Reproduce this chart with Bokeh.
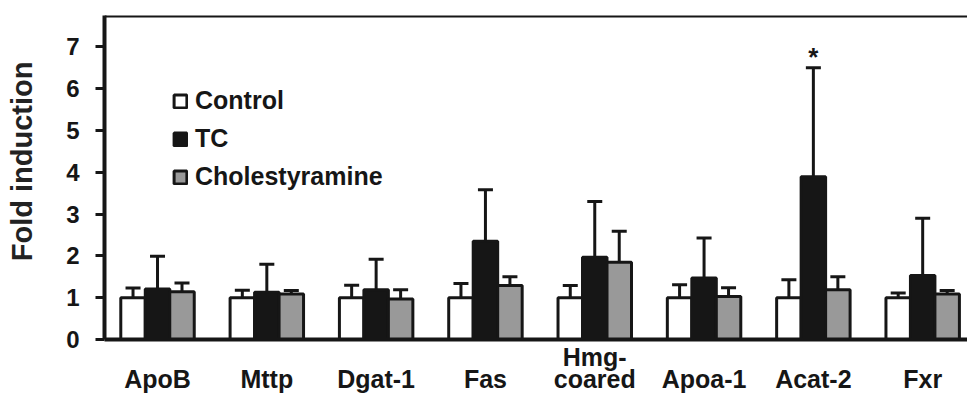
from bokeh.plotting import figure
from bokeh.models import (ColumnDataSource, Range1d, FixedTicker, Whisker, TeeHead,
                          Span, Legend, LegendItem)
from bokeh.core.properties import value
from bokeh.embed import file_html
from bokeh.resources import INLINE

# ---- data ----
categories = ["ApoB", "Mttp", "Dgat-1", "Fas", "Hmg-coared", "Apoa-1", "Acat-2", "Fxr"]
tick_labels = ["\nApoB", "\nMttp", "\nDgat-1", "\nFas", "Hmg-\ncoared", "\nApoa-1", "\nAcat-2", "\nFxr"]
series = ["Control", "TC", "Cholestyramine"]
control = [1.00, 1.00, 1.00, 1.00, 1.00, 1.00, 1.00, 1.00]
control_sd = [0.23, 0.18, 0.30, 0.34, 0.29, 0.31, 0.43, 0.11]
tc = [1.21, 1.13, 1.19, 2.35, 1.97, 1.47, 3.89, 1.53]
tc_sd = [0.78, 0.67, 0.73, 1.23, 1.33, 0.96, 2.61, 1.37]
chol = [1.14, 1.09, 0.97, 1.29, 1.85, 1.03, 1.19, 1.09]
chol_sd = [0.21, 0.08, 0.22, 0.21, 0.74, 0.21, 0.31, 0.08]
significant = ["Acat-2"]
y_title = "Fold induction"

FONT = "Liberation Sans"
DARK = "#161616"
fills = ["#ffffff", "#161616", "#999999"]
bar_w = 0.224

p = figure(width=967, height=400, output_backend="svg", toolbar_location=None,
           x_range=Range1d(-0.485, 7.41), y_range=Range1d(0, 7.75),
           min_border_left=104, min_border_right=0, min_border_top=15, min_border_bottom=61)
p.outline_line_color = None
p.grid.visible = False
p.background_fill_color = "white"

idx = list(range(len(categories)))
renderers = []
for k, (vals, sds, col) in enumerate([(control, control_sd, fills[0]),
                                      (tc, tc_sd, fills[1]),
                                      (chol, chol_sd, fills[2])]):
    xs = [i + (k - 1) * bar_w for i in idx]
    src = ColumnDataSource(dict(x=xs, top=vals, up=[v + s for v, s in zip(vals, sds)]))
    r = p.vbar(x="x", top="top", bottom=0, width=bar_w, source=src,
               fill_color=col, line_color=DARK, line_width=3)
    renderers.append(r)
    w = Whisker(source=src, base="x", lower="top", upper="up", dimension="height",
                line_color=DARK, line_width=3, lower_head=None,
                upper_head=TeeHead(size=15, line_color=DARK, line_width=3),
                level="glyph")
    p.add_layout(w)

# significance star
star_x = [categories.index(c) for c in significant]
star_y = [tc[i] + tc_sd[i] for i in star_x]
p.text(x=star_x, y=star_y, text=["*"] * len(star_x), text_font=value(FONT),
       text_font_style="bold", text_font_size="26px", text_align="center",
       text_baseline="bottom", y_offset=4, text_color=DARK)

# top border line
p.add_layout(Span(location=7.75, dimension="width", line_color=DARK, line_width=4))

# axes
p.yaxis.ticker = FixedTicker(ticks=[0, 1, 2, 3, 4, 5, 6, 7])
# leading no-break spaces nudge the centred title upward, as in the original
p.yaxis.axis_label = "\u00a0\u00a0\u00a0\u00a0" + y_title
p.yaxis.axis_label_text_font = FONT
p.yaxis.axis_label_text_font_style = "bold"
p.yaxis.axis_label_text_font_size = "29px"
p.yaxis.axis_label_text_color = "#222222"
p.yaxis.axis_label_standoff = 25
p.yaxis.major_label_text_font = FONT
p.yaxis.major_label_text_font_style = "bold"
p.yaxis.major_label_text_font_size = "24px"
p.yaxis.major_label_text_color = DARK
p.yaxis.major_label_standoff = 16
p.yaxis.major_tick_out = 9
p.yaxis.major_tick_in = 0
p.yaxis.major_tick_line_width = 3
p.yaxis.major_tick_line_color = DARK
p.yaxis.minor_tick_line_color = None
p.yaxis.axis_line_width = 4
p.yaxis.axis_line_color = DARK

p.xaxis.ticker = FixedTicker(ticks=idx)
p.xaxis.major_label_overrides = {i: t for i, t in zip(idx, tick_labels)}
p.xaxis.major_label_text_font = FONT
p.xaxis.major_label_text_font_style = "bold"
p.xaxis.major_label_text_font_size = "25px"
p.xaxis.major_label_text_color = DARK
p.xaxis.major_label_text_line_height = 0.82
p.xaxis.major_label_standoff = 3
p.xaxis.major_tick_out = 0
p.xaxis.major_tick_in = 0
p.xaxis.major_tick_line_color = None
p.xaxis.minor_tick_line_color = None
p.xaxis.axis_line_width = 4
p.xaxis.axis_line_color = DARK

legend = Legend(items=[LegendItem(label=s, renderers=[r]) for s, r in zip(series, renderers)],
                location=(68, 148), glyph_width=16, glyph_height=16, spacing=9,
                label_standoff=7, padding=0, margin=0, border_line_color=None,
                background_fill_alpha=0, label_text_font=FONT,
                label_text_font_style="bold", label_text_font_size="25px",
                label_text_color=DARK, label_height=25)
p.add_layout(legend)

open("out.html", "w").write(file_html(p, INLINE))
